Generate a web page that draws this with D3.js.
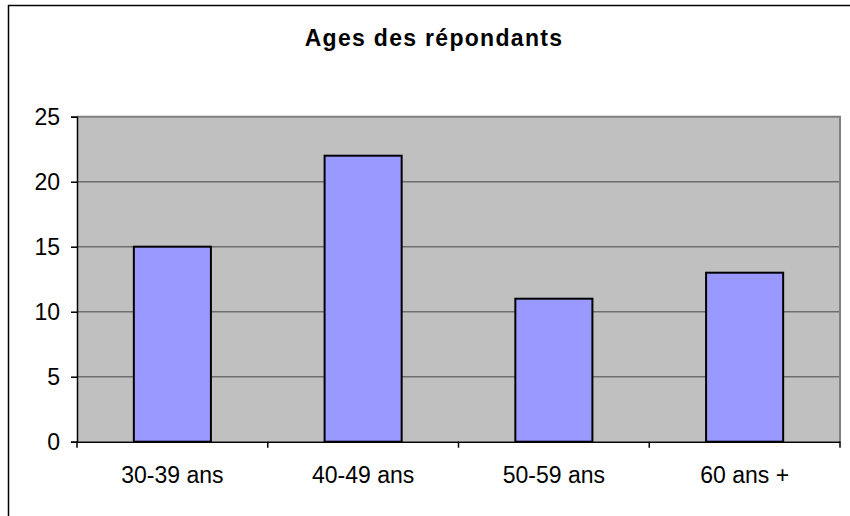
<!DOCTYPE html>
<html>
<head>
<meta charset="utf-8">
<script src="https://cdn.jsdelivr.net/npm/d3@7"></script>
<style>
  body { margin: 0; background: #fff; }
  svg { display: block; font-family: "Liberation Sans", Arial, sans-serif; }
</style>
</head>
<body>
<div id="chart"></div>
<script>
const categories = ["30-39 ans", "40-49 ans", "50-59 ans", "60 ans +"];
const values = [15, 22, 11, 13];
const yTicks = [0, 5, 10, 15, 20, 25];
const title = "Ages des répondants";

const width = 850, height = 516;
const plot = { left: 77, right: 840, top: 116.7, bottom: 441.7 };

const svg = d3.select("#chart").append("svg")
  .attr("width", width)
  .attr("height", height);

// outer frame (runs off the right and bottom edges)
svg.append("rect")
  .attr("x", 8.5).attr("y", 5.5)
  .attr("width", 870).attr("height", 540)
  .attr("fill", "none")
  .attr("stroke", "#000")
  .attr("stroke-width", 1.5);

// title
svg.append("text")
  .attr("x", 434).attr("y", 46)
  .attr("text-anchor", "middle")
  .style("font-size", "23px")
  .style("font-weight", "bold")
  .style("letter-spacing", "1.3px")
  .text(title);

const x = d3.scaleBand().domain(categories).range([plot.left, plot.right]);
const y = d3.scaleLinear().domain([0, 25]).range([plot.bottom, plot.top]);

// plot background
svg.append("rect")
  .attr("x", plot.left).attr("y", plot.top)
  .attr("width", plot.right - plot.left)
  .attr("height", plot.bottom - plot.top)
  .attr("fill", "#c0c0c0");

// gridlines
svg.append("g")
  .selectAll("line")
  .data(yTicks.filter(d => d > 0 && d < 25))
  .join("line")
  .attr("x1", plot.left).attr("x2", plot.right)
  .attr("y1", d => y(d)).attr("y2", d => y(d))
  .attr("stroke", "#6e6e6e")
  .attr("stroke-width", 1.5);

// plot border top/right
svg.append("path")
  .attr("d", `M${plot.left},${plot.top}H${plot.right}V${plot.bottom}`)
  .attr("fill", "none")
  .attr("stroke", "#808080")
  .attr("stroke-width", 2);

// bars
const barW = x.bandwidth() * 0.404;
svg.append("g")
  .selectAll("rect")
  .data(values)
  .join("rect")
  .attr("x", (d, i) => x(categories[i]) + (x.bandwidth() - barW) / 2)
  .attr("y", d => y(d))
  .attr("width", barW)
  .attr("height", d => y(0) - y(d))
  .attr("fill", "#9999ff")
  .attr("stroke", "#000")
  .attr("stroke-width", 2);

// y axis
const axisY = d3.axisLeft(y).tickValues(yTicks).tickSize(6).tickPadding(11);
const gy = svg.append("g")
  .attr("transform", `translate(${plot.left},0)`)
  .call(axisY);
gy.select(".domain").attr("stroke", "#000").attr("stroke-width", 1.5);
gy.selectAll(".tick line").attr("stroke", "#000").attr("stroke-width", 1.5);
gy.selectAll(".tick text")
  .style("font-size", "23px")
  .style("font-family", "'Liberation Sans', Arial, sans-serif")
  .attr("fill", "#000");

// x axis
const axisX = d3.axisBottom(x).tickSize(0).tickPadding(25);
const gx = svg.append("g")
  .attr("transform", `translate(0,${plot.bottom})`)
  .call(axisX);
gx.select(".domain").attr("stroke", "#000").attr("stroke-width", 1.5);
gx.selectAll(".tick text")
  .style("font-size", "23px")
  .style("font-family", "'Liberation Sans', Arial, sans-serif")
  .attr("fill", "#000");

// category boundary ticks
const bounds = categories.map(c => x(c)).concat([plot.right]);
gx.append("g")
  .selectAll("line")
  .data(bounds)
  .join("line")
  .attr("x1", d => d).attr("x2", d => d)
  .attr("y1", 0).attr("y2", 6)
  .attr("stroke", "#000")
  .attr("stroke-width", 1.5);
</script>
</body>
</html>
